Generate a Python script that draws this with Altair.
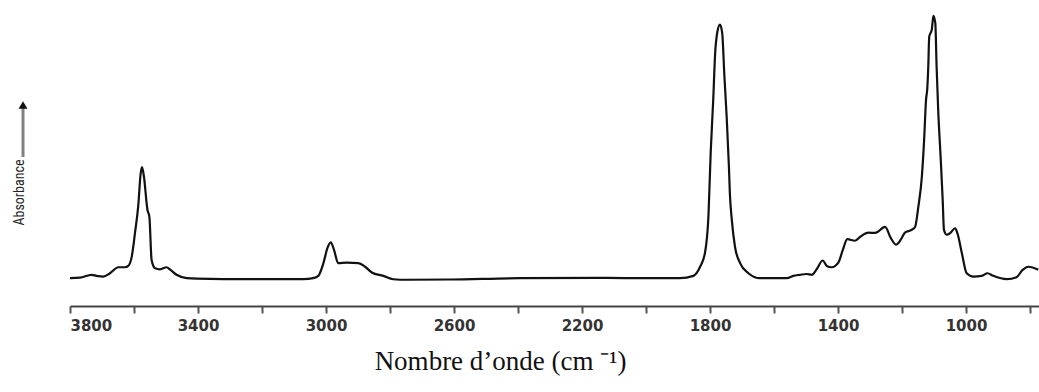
import altair as alt
import pandas as pd

# Wavenumber (cm-1) and absorbance (arbitrary units)
wavenumber = [3800, 3769, 3732, 3717, 3696, 3675, 3649, 3628, 3618, 3607, 3597, 3587,
              3579, 3575, 3569, 3558, 3552, 3545, 3534, 3519, 3498, 3488, 3467, 3435,
              3404, 3238, 3071, 3040, 3024, 3008, 2996, 2985, 2975, 2962, 2935, 2899,
              2878, 2857, 2821, 2790, 2748, 2612, 2394, 2144, 1988, 1894, 1852, 1831,
              1816, 1805, 1798, 1790, 1784, 1777, 1769, 1762, 1755, 1748, 1741, 1738,
              1732, 1722, 1706, 1680, 1644, 1560, 1540, 1519, 1498, 1482, 1467, 1448,
              1435, 1420, 1399, 1385, 1371, 1347, 1329, 1305, 1284, 1253, 1235, 1219,
              1204, 1191, 1170, 1159, 1149, 1138, 1131, 1125, 1121, 1118, 1115, 1107,
              1102, 1096, 1092, 1087, 1079, 1073, 1069, 1060, 1050, 1034, 1027, 1013,
              998, 977, 951, 933, 915, 873, 842, 823, 805, 774]
absorbance = [-0.001, 0.001, 0.012, 0.008, 0.005, 0.018, 0.041, 0.041, 0.046, 0.082, 0.172, 0.274,
              0.403, 0.426, 0.390, 0.262, 0.236, 0.069, 0.037, 0.033, 0.041, 0.033, 0.012, -0.001,
              -0.003, -0.005, -0.005, -0.001, 0.008, 0.057, 0.114, 0.137, 0.108, 0.057, 0.059, 0.057,
              0.043, 0.021, 0.008, -0.005, -0.007, -0.006, -0.001, 0.000, -0.001, -0.001, 0.008, 0.043,
              0.095, 0.236, 0.480, 0.685, 0.864, 0.947, 0.974, 0.942, 0.774, 0.620, 0.429, 0.326,
              0.224, 0.120, 0.057, 0.018, -0.001, -0.001, 0.008, 0.012, 0.015, 0.012, 0.033, 0.067,
              0.046, 0.041, 0.059, 0.108, 0.149, 0.143, 0.160, 0.174, 0.173, 0.196, 0.153, 0.128,
              0.147, 0.174, 0.185, 0.197, 0.274, 0.390, 0.531, 0.685, 0.730, 0.813, 0.928, 0.955,
              1.008, 0.980, 0.813, 0.646, 0.455, 0.301, 0.185, 0.166, 0.172, 0.191, 0.172, 0.095,
              0.018, 0.005, 0.008, 0.018, 0.008, -0.005, 0.003, 0.031, 0.043, 0.031]

tick_values = [3800, 3600, 3400, 3200, 3000, 2800, 2600, 2400, 2200, 2000,
               1800, 1600, 1400, 1200, 1000, 800]

df = pd.DataFrame({"w": wavenumber, "a": absorbance})

x_axis = alt.Axis(
    values=tick_values,
    labelExpr="(3800 - datum.value) % 400 == 0 ? format(datum.value, 'd') : ''",
    grid=False,
    domainColor="#444", domainWidth=2,
    tickColor="#555", tickWidth=2, tickSize=7,
    labelFont="DejaVu Sans", labelFontSize=15, labelFontWeight="bold",
    labelColor="#333", labelPadding=5,
    title="Nombre d’onde  (cm ⁻¹)",
    titleFont="Liberation Serif", titleFontSize=27, titleFontWeight="normal",
    titleColor="#111", titleX=430, titleY=63, titleAlign="center",
    titleBaseline="alphabetic",
)

y_axis = alt.Axis(
    domain=False, ticks=False, labels=False, grid=False,
    title="Absorbance",
    titleFont="Liberation Sans Narrow, Arial Narrow, Roboto Condensed, DejaVu Sans Condensed, Liberation Sans",
    titleFontSize=14, titleFontWeight="normal",
    titleColor="#222", titleX=-51, titleY=192, titleAlign="center",
    titleBaseline="middle", titleAngle=270,
)

line = alt.Chart(df).mark_line(color="#111", strokeWidth=2.2, interpolate="monotone", clip=True).encode(
    x=alt.X("w:Q", scale=alt.Scale(domain=[3800, 772], nice=False, zero=False), axis=x_axis),
    y=alt.Y("a:Q", scale=alt.Scale(domain=[-0.108, 1.069], nice=False, zero=False), axis=y_axis),
)

one = pd.DataFrame({"k": [0]})
shaft = alt.Chart(one).mark_rule(color="#808080", strokeWidth=3).encode(
    x=alt.value(-47), y=alt.value(108), y2=alt.value(157)
)
head = alt.Chart(one).mark_point(shape="triangle-up", filled=True, color="#111", size=80, opacity=1).encode(
    x=alt.value(-47), y=alt.value(105)
)

chart = alt.layer(line, shaft, head).properties(
    width=969, height=306,
    padding={"left": 70, "top": 0, "right": 0, "bottom": 86},
    autosize=alt.AutoSizeParams(type="none"),
).configure_view(stroke=None)

chart.save("out.html", embed_options={"renderer": "svg", "actions": False})
